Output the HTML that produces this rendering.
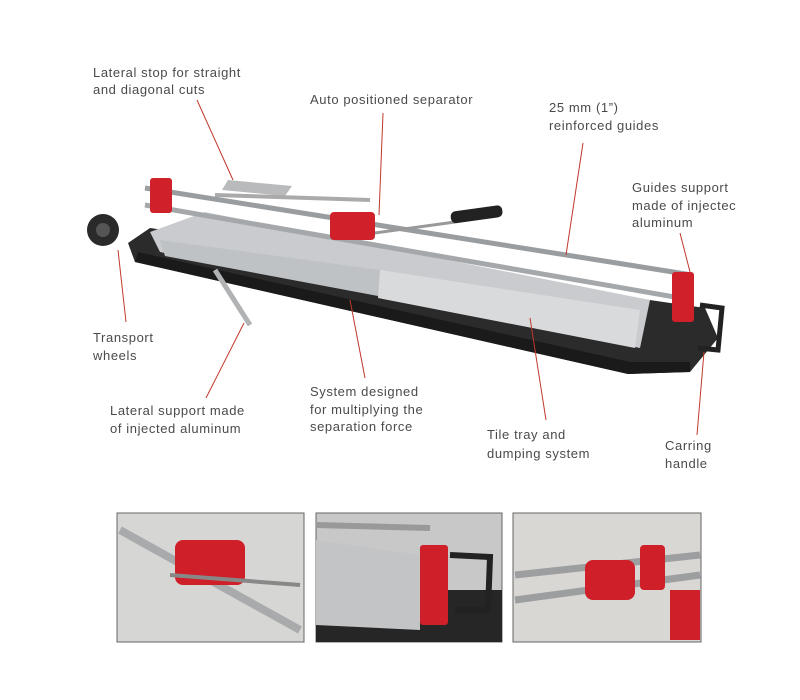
<!DOCTYPE html>
<html><head><meta charset="utf-8"><style>
html,body{margin:0;padding:0;background:#fff;width:800px;height:700px;overflow:hidden}
svg{display:block}
text{font-family:"Liberation Sans",sans-serif;font-size:13px;fill:#4a4a4a;letter-spacing:0.6px}
</style></head><body>
<svg width="800" height="700" viewBox="0 0 800 700">
<!-- base tray -->
<polygon points="128,243 150,228 705,308 718,338 690,372 628,374 135,262" fill="#2b2b2b"/>
<polygon points="135,262 628,374 690,372 690,362 630,362 138,252" fill="#1a1a1a"/>
<!-- aluminium plate -->
<polygon points="150,232 205,212 650,300 640,348 160,252" fill="#c9cbce"/>
<polygon points="380,270 640,310 635,348 378,298" fill="#d8dadc"/>
<polygon points="160,240 380,270 378,296 165,256" fill="#bfc2c5"/>
<!-- lateral stop -->
<polygon points="228,180 292,186 285,196 222,190" fill="#b8babc"/>
<line x1="215" y1="195" x2="370" y2="200" stroke="#aaa" stroke-width="4"/>
<!-- lateral support -->
<line x1="215" y1="270" x2="250" y2="325" stroke="#b0b2b4" stroke-width="5"/>
<!-- rails -->
<line x1="145" y1="188" x2="692" y2="275" stroke="#9a9da0" stroke-width="5"/>
<line x1="145" y1="205" x2="692" y2="300" stroke="#a5a8ab" stroke-width="5"/>
<!-- handle lever -->
<line x1="360" y1="235" x2="455" y2="222" stroke="#999" stroke-width="3"/>
<rect x="450" y="212" width="52" height="12" rx="5" fill="#222" transform="rotate(-8 450 212)"/>
<!-- red parts -->
<rect x="150" y="178" width="22" height="35" rx="3" fill="#d0202a"/>
<rect x="330" y="212" width="45" height="28" rx="4" fill="#d0202a"/>
<rect x="672" y="272" width="22" height="50" rx="3" fill="#d0202a"/>
<!-- carrying handle -->
<path d="M700,305 L722,308 L718,350 L698,348" fill="none" stroke="#222" stroke-width="5"/>
<!-- wheel -->
<circle cx="103" cy="230" r="16" fill="#2a2a2a"/>
<circle cx="103" cy="230" r="7" fill="#555"/>
<!-- leader lines -->
<g stroke="#c0392b" stroke-width="1" fill="none">
<line x1="197" y1="100" x2="233" y2="180"/>
<line x1="383" y1="113" x2="379" y2="215"/>
<line x1="583" y1="143" x2="566" y2="255"/>
<line x1="680" y1="233" x2="690" y2="272"/>
<line x1="118" y1="250" x2="126" y2="322"/>
<line x1="244" y1="323" x2="206" y2="398"/>
<line x1="350" y1="300" x2="365" y2="378"/>
<line x1="530" y1="318" x2="546" y2="420"/>
<line x1="704" y1="352" x2="697" y2="435"/>
</g>
<!-- labels -->
<text x="93" y="77">Lateral stop for straight</text>
<text x="93" y="94">and diagonal cuts</text>
<text x="310" y="104">Auto positioned separator</text>
<text x="549" y="112">25 mm (1”)</text>
<text x="549" y="130">reinforced guides</text>
<text x="632" y="192">Guides support</text>
<text x="632" y="210">made of injectec</text>
<text x="632" y="227">aluminum</text>
<text x="93" y="342">Transport</text>
<text x="93" y="360">wheels</text>
<text x="110" y="415">Lateral support made</text>
<text x="110" y="433">of injected aluminum</text>
<text x="310" y="396">System designed</text>
<text x="310" y="414">for multiplying the</text>
<text x="310" y="431">separation force</text>
<text x="487" y="439">Tile tray and</text>
<text x="487" y="458">dumping system</text>
<text x="665" y="450">Carring</text>
<text x="665" y="468">handle</text>
<!-- thumbnails -->
<g>
<rect x="117" y="513" width="187" height="129" fill="#d6d6d4" stroke="#666"/>
<line x1="120" y1="530" x2="300" y2="630" stroke="#a8aaac" stroke-width="8"/>
<rect x="175" y="540" width="70" height="45" rx="8" fill="#cf1f28"/>
<line x1="170" y1="575" x2="300" y2="585" stroke="#888" stroke-width="4"/>
<rect x="316" y="513" width="186" height="129" fill="#c8c8c8" stroke="#666"/>
<rect x="316" y="590" width="186" height="52" fill="#262626"/>
<polygon points="316,540 420,555 420,630 316,625" fill="#c2c4c6"/>
<line x1="316" y1="525" x2="430" y2="528" stroke="#999" stroke-width="6"/>
<rect x="420" y="545" width="28" height="80" rx="3" fill="#cf1f28"/>
<path d="M450,555 L490,557 L488,610 L455,610" fill="none" stroke="#222" stroke-width="6"/>
<rect x="513" y="513" width="188" height="129" fill="#d9d7d3" stroke="#666"/>
<line x1="515" y1="575" x2="700" y2="555" stroke="#9c9ea0" stroke-width="7"/>
<line x1="515" y1="600" x2="700" y2="575" stroke="#9c9ea0" stroke-width="7"/>
<rect x="585" y="560" width="50" height="40" rx="8" fill="#cf1f28"/>
<rect x="640" y="545" width="25" height="45" rx="4" fill="#cf1f28"/>
<rect x="670" y="590" width="30" height="50" fill="#cf1f28"/>
</g>
</svg>
</body></html>
